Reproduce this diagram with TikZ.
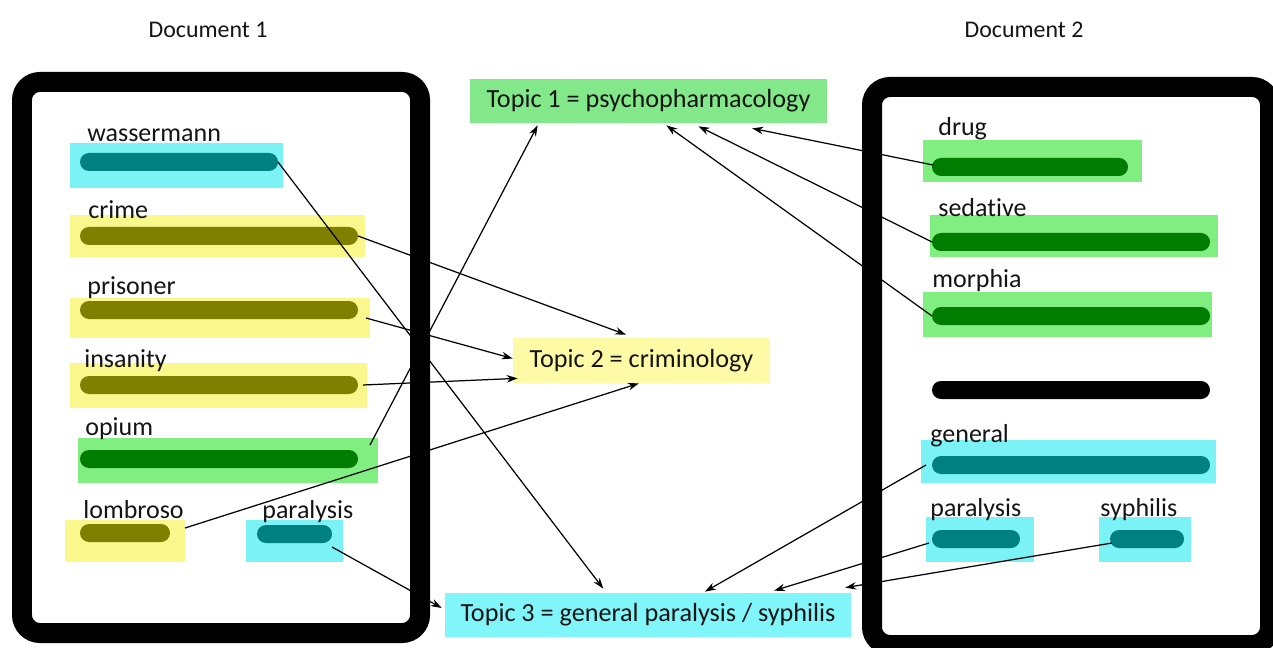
\documentclass[tikz,border=0pt]{standalone}
\usepackage{fontspec}
\setmainfont{Carlito}[Ligatures={NoCommon}]
\usetikzlibrary{calc,arrows.meta}
\definecolor{cyanhl}{RGB}{122,242,246}
\definecolor{yellowhl}{RGB}{250,247,140}
\definecolor{greenhl}{RGB}{128,238,128}
\definecolor{tealbar}{RGB}{0,128,128}
\definecolor{olivebar}{RGB}{128,128,0}
\definecolor{greenbar}{RGB}{0,125,0}
\definecolor{topicone}{RGB}{130,232,138}
\definecolor{topictwo}{RGB}{255,250,165}
\definecolor{topicthree}{RGB}{128,245,250}
\definecolor{txt}{RGB}{20,20,20}
\begin{document}
\begin{tikzpicture}[x=0.02cm,y=-0.02cm,
  docframe/.style={line width=0.4cm, rounded corners=0.36cm, draw=black},
  lbl/.style={anchor=base west, inner sep=0pt, font=\fontsize{14.8}{17}\selectfont, text=txt},
  head/.style={inner sep=0pt, font=\fontsize{13.6}{16}\selectfont, text=txt},
  topic/.style={inner sep=0pt, font=\fontsize{14.9}{17}\selectfont, text=txt},
  barfill/.style={fill=#1, rounded corners=0.18cm},
  conn/.style={-{Stealth[length=2.2mm,width=1.5mm]}, line width=0.7pt, draw=black}
]
\useasboundingbox (0,0) rectangle (1273,648);

% headings
\node[head] (h1) at (208,30) {Document 1};
\node[head] (h2) at (1024,30) {Document 2};

% document frames
\draw[docframe] (22,82) rectangle (420,633);
\draw[docframe] (872,87) rectangle (1270,645);

% topic nodes
\node[topic, fill=topicone, minimum width=7.14cm, minimum height=0.88cm] (t1) at (648.5,101) {Topic 1 = psychopharmacology};
\node[topic, fill=topictwo, minimum width=5.14cm, minimum height=0.9cm] (t2) at (641.5,360.5) {Topic 2 = criminology};
\node[topic, fill=topicthree, minimum width=8.12cm, minimum height=0.88cm] (t3) at (648,615) {Topic 3 = general paralysis / syphilis};

% ---- Document 1 words ----
\fill[cyanhl] (70,143) rectangle (283,188);
\fill[barfill=tealbar] (80,153) rectangle (278,171);
\node[lbl] (lwass) at (87,142) {wassermann};

\fill[yellowhl] (70,215) rectangle (365,257);
\fill[barfill=olivebar] (80,227) rectangle (358,245);
\node[lbl] (lcrime) at (88,219) {crime};

\fill[yellowhl] (70,298) rectangle (370,338);
\fill[barfill=olivebar] (80,301) rectangle (358,319);
\node[lbl] (lpris) at (87,295) {prisoner};

\fill[yellowhl] (70,363) rectangle (367,408);
\fill[barfill=olivebar] (80,376) rectangle (358,394);
\node[lbl] (lins) at (84,367) {insanity};

\fill[greenhl] (78,438) rectangle (378,483);
\fill[barfill=greenbar] (80,450) rectangle (358,468);
\node[lbl] (lopium) at (85,435) {opium};

\fill[yellowhl] (65,520) rectangle (185,562);
\fill[barfill=olivebar] (80,524) rectangle (170,542);
\node[lbl] (llomb) at (83,518) {lombroso};

\fill[cyanhl] (246,520) rectangle (343,562);
\fill[barfill=tealbar] (257,525) rectangle (332,543);
\node[lbl] (lpar1) at (262,518) {paralysis};

% ---- Document 2 words ----
\fill[greenhl] (923,140) rectangle (1142,182);
\fill[barfill=greenbar] (932,158) rectangle (1128,176);
\node[lbl] (ldrug) at (938,136) {drug};

\fill[greenhl] (930,215) rectangle (1218,257);
\fill[barfill=greenbar] (932,233) rectangle (1210,251);
\node[lbl] (lsed) at (938,217) {sedative};

\fill[greenhl] (923,292) rectangle (1212,337);
\fill[barfill=greenbar] (932,307) rectangle (1210,325);
\node[lbl] (lmor) at (932,288) {morphia};

\fill[barfill=black] (932,381) rectangle (1210,399);

\fill[cyanhl] (921,440) rectangle (1216,483);
\fill[barfill=tealbar] (932,456) rectangle (1210,474);
\node[lbl] (lgen) at (930,442) {general};

\fill[cyanhl] (926,517) rectangle (1034,562);
\fill[barfill=tealbar] (932,530) rectangle (1020,548);
\node[lbl] (lpar2) at (930,516) {paralysis};

\fill[cyanhl] (1099,517) rectangle (1191,562);
\fill[barfill=tealbar] (1110,530) rectangle (1184,548);
\node[lbl] (lsyph) at (1100,516) {syphilis};

% connector start points
\coordinate (swass) at (278,162);
\coordinate (scrime) at (358,236);
\coordinate (spris) at (366,318);
\coordinate (sins) at (363,385);
\coordinate (sopium) at (370,445);
\coordinate (slomb) at (185,528);
\coordinate (spar1) at (332,547);
\coordinate (sdrug) at (933,165);
\coordinate (ssed) at (932,242);
\coordinate (smor) at (932,316);
\coordinate (sgen) at (926,465);
\coordinate (spar2) at (929,543);
\coordinate (ssyph) at (1112,543);

% connectors
\draw[conn] (swass) -- ($(t3.north west)!0.39!(t3.north east)+(0,-4)$);
\draw[conn] (scrime) -- ($(t2.north west)!0.44!(t2.north east)+(0,-3)$);
\draw[conn] (spris) -- ($(t2.west)+(0,-2)$);
\draw[conn] (sins) -- ($(t2.south west)+(5,-5)$);
\draw[conn] (sopium) -- ($(t1.south west)!0.19!(t1.south east)+(0,2)$);
\draw[conn] (slomb) -- ($(t2.south west)!0.49!(t2.south east)$);
\draw[conn] (spar1) -- ($(t3.west)+(-3,-7)$);
\draw[conn] (sdrug) -- ($(t1.south west)!0.79!(t1.south east)+(0,5)$);
\draw[conn] (ssed) -- ($(t1.south west)!0.64!(t1.south east)+(0,3)$);
\draw[conn] (smor) -- ($(t1.south west)!0.55!(t1.south east)+(0,2)$);
\draw[conn] (sgen) -- ($(t3.north west)!0.64!(t3.north east)+(0,-1)$);
\draw[conn] (spar2) -- ($(t3.north west)!0.81!(t3.north east)+(0,-2)$);
\draw[conn] (ssyph) -- ($(t3.north west)!0.985!(t3.north east)+(0,-5)$);
\end{tikzpicture}
\end{document}
